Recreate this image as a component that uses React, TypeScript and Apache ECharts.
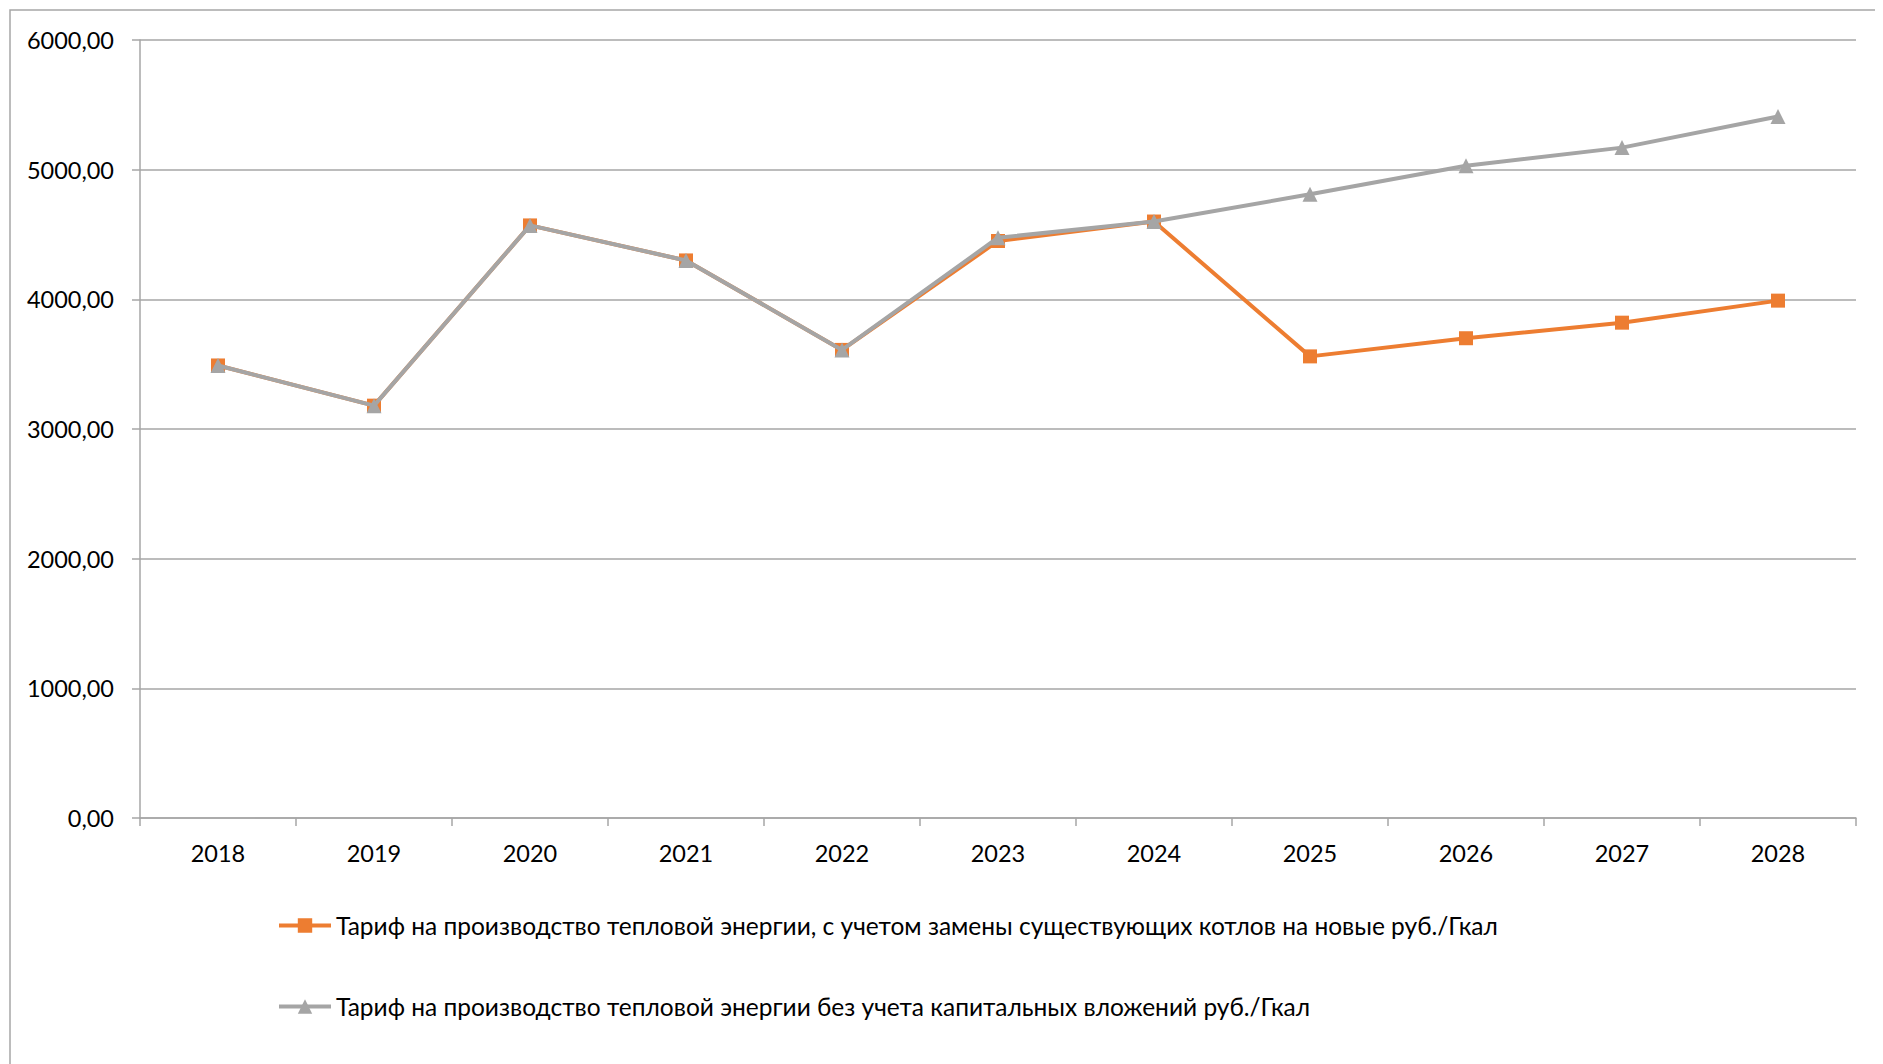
import React, { useEffect, useRef } from "react";
import * as echarts from "echarts";

const years = ["2018", "2019", "2020", "2021", "2022", "2023", "2024", "2025", "2026", "2027", "2028"];
const withReplacement = [3490, 3180, 4570, 4300, 3610, 4450, 4600, 3560, 3700, 3820, 3990];
const withoutInvestment = [3490, 3180, 4570, 4300, 3610, 4475, 4600, 4810, 5030, 5170, 5410];
const seriesNames = [
  "Тариф на производство тепловой энергии, с учетом замены существующих котлов на новые руб./Гкал",
  "Тариф на производство тепловой энергии без учета капитальных вложений руб./Гкал",
];

const FONT = "Lato, 'Open Sans', sans-serif";

export default function App() {
  const ref = useRef<HTMLDivElement>(null);
  useEffect(() => {
    if (!ref.current) return;
    const chart = echarts.init(ref.current, null, { renderer: "svg" });
    chart.setOption({
      animation: false,
      textStyle: { fontFamily: FONT },
      graphic: [
        {
          type: "rect",
          shape: { x: 2, y: 2, width: 3000, height: 3000 },
          style: { fill: "none", stroke: "#A6A6A6", lineWidth: 1.5 },
          silent: true,
        },
      ],
      grid: { left: 132, right: 27, top: 32, bottom: 246, containLabel: false },
      legend: {
        orient: "vertical",
        left: 264,
        top: 900,
        itemGap: 56,
        itemWidth: 52,
        itemHeight: 18,
        lineStyle: { width: 4 },
        textStyle: { fontFamily: FONT, fontSize: 24.5, color: "#000" },
        data: seriesNames,
      },
      xAxis: {
        type: "category",
        data: years,
        boundaryGap: true,
        axisLine: { lineStyle: { color: "#A6A6A6", width: 1.5 } },
        axisTick: { show: true, length: 8, lineStyle: { color: "#A6A6A6", width: 1.5 } },
        axisLabel: { color: "#000", fontSize: 23.5, fontFamily: FONT, margin: 23 },
      },
      yAxis: {
        type: "value",
        min: 0,
        max: 6000,
        interval: 1000,
        axisLine: { show: true, lineStyle: { color: "#A6A6A6", width: 1.5 } },
        axisTick: { show: true, length: 8, lineStyle: { color: "#A6A6A6", width: 1.5 } },
        splitLine: { lineStyle: { color: "#A6A6A6", width: 1.5 } },
        axisLabel: {
          color: "#000",
          fontSize: 23.5,
          fontFamily: FONT,
          margin: 26,
          formatter: (v: number) => v.toFixed(2).replace(".", ","),
        },
      },
      series: [
        {
          name: seriesNames[0],
          type: "line",
          data: withReplacement,
          symbol: "rect",
          symbolSize: 14,
          itemStyle: { color: "#ED7D31" },
          lineStyle: { color: "#ED7D31", width: 4 },
          z: 2,
        },
        {
          name: seriesNames[1],
          type: "line",
          data: withoutInvestment,
          symbol: "triangle",
          symbolSize: 15,
          itemStyle: { color: "#A5A5A5" },
          lineStyle: { color: "#A5A5A5", width: 4 },
          z: 3,
        },
      ],
    });
    return () => chart.dispose();
  }, []);
  return <div ref={ref} style={{ width: 1875, height: 1056 }} />;
}
